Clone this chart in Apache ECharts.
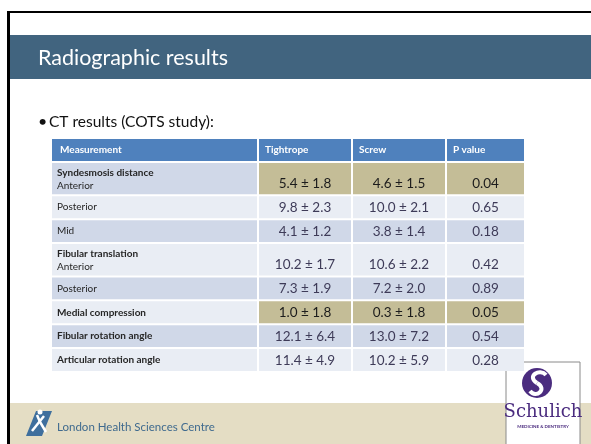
<!DOCTYPE html>
<html><head><meta charset="utf-8">
<script src="https://cdn.jsdelivr.net/npm/echarts@6/dist/echarts.min.js"></script>
<style>html,body{margin:0;padding:0;background:#fff}#c{width:591px;height:444px}</style>
</head><body><div id="c"></div>
<script>
// ---- data ----
const columnHeaders = ['Measurement', 'Tightrope', 'Screw', 'P value'];
const groupLabels = ['Syndesmosis distance', null, null, 'Fibular translation', null, 'Medial compression', 'Fibular rotation angle', 'Articular rotation angle'];
const subLabels = ['Anterior', 'Posterior', 'Mid', 'Anterior', 'Posterior', null, null, null];
const tightropeMean = [5.4, 9.8, 4.1, 10.2, 7.3, 1.0, 12.1, 11.4];
const tightropeSD = [1.8, 2.3, 1.2, 1.7, 1.9, 1.8, 6.4, 4.9];
const screwMean = [4.6, 10.0, 3.8, 10.6, 7.2, 0.3, 13.0, 10.2];
const screwSD = [1.5, 2.1, 1.4, 2.2, 2.0, 1.8, 7.2, 5.9];
const pValues = [0.04, 0.65, 0.18, 0.42, 0.89, 0.05, 0.54, 0.28];
const slideTitle = 'Radiographic results';
const bulletText = 'CT results (COTS study):';
const footerText = 'London Health Sciences Centre';

// ---- layout ----
const colWeights = [207, 94, 94, 79];
const FONT = 'Lato, "Open Sans", sans-serif';
const C = {
  header: '#4f81bd', dark: '#d0d8e8', light: '#e9edf4', hi: '#c4bd97',
  valText: '#3e3b58', hiText: '#1c1c1c', labText: '#262626'
};
const rowUnits = [1].concat(groupLabels.map((g, i) => (g && subLabels[i]) ? 1.4 : 1));
const yB = [0]; rowUnits.forEach(u => yB.push(yB[yB.length - 1] + u));
const xB = [0]; colWeights.forEach(w => xB.push(xB[xB.length - 1] + w));

const cells = [];
for (let r = 0; r < rowUnits.length; r++) {
  for (let c = 0; c < 4; c++) {
    cells.push([xB[c], xB[c + 1], yB[r], yB[r + 1], c, r]);
  }
}

function cellContent(c, r) {
  if (r === 0) return { header: columnHeaders[c] };
  const i = r - 1;
  const sig = pValues[i] <= 0.05;
  if (c === 0) return { group: groupLabels[i], sub: subLabels[i], i };
  let txt;
  if (c === 1) txt = tightropeMean[i].toFixed(1) + ' \u00b1 ' + tightropeSD[i].toFixed(1);
  else if (c === 2) txt = screwMean[i].toFixed(1) + ' \u00b1 ' + screwSD[i].toFixed(1);
  else txt = pValues[i].toFixed(2);
  return { value: txt, sig, i };
}

function renderItem(params, api) {
  const p0 = api.coord([api.value(0), api.value(2)]);
  const p1 = api.coord([api.value(1), api.value(3)]);
  const c = api.value(4), r = api.value(5);
  const x = p0[0] + 1, y = p0[1] + 1, w = p1[0] - p0[0] - 2, h = p1[1] - p0[1] - 2;
  const info = cellContent(c, r);
  let fill;
  if (r === 0) fill = C.header;
  else if (c > 0 && info.sig) fill = C.hi;
  else fill = ((r - 1) % 2 === 0) ? C.dark : C.light;
  const children = [{ type: 'rect', shape: { x, y, width: w, height: h }, style: { fill } }];
  const LF = '10px ' + FONT, LB = 'bold 10px ' + FONT;
  if (r === 0) {
    children.push({ type: 'text', style: { text: info.header, x: x + (c === 0 ? 8 : 6), y: y + h / 2, verticalAlign: 'middle', align: 'left', fill: '#fff', font: LB } });
  } else if (c === 0) {
    if (info.group && info.sub) {
      children.push({ type: 'text', style: { text: info.group, x: x + 5, y: y + 10, verticalAlign: 'middle', fill: C.labText, font: LB } });
      children.push({ type: 'text', style: { text: info.sub, x: x + 5, y: y + 23, verticalAlign: 'middle', fill: C.labText, font: LF } });
    } else if (info.group) {
      children.push({ type: 'text', style: { text: info.group, x: x + 5, y: y + h / 2, verticalAlign: 'middle', fill: C.labText, font: LB } });
    } else {
      children.push({ type: 'text', style: { text: info.sub, x: x + 5, y: y + h / 2, verticalAlign: 'middle', fill: C.labText, font: LF } });
    }
  } else {
    children.push({ type: 'text', style: { text: info.value, x: x + w / 2, y: y + h - 10.8, align: 'center', verticalAlign: 'middle', fill: info.sig ? C.hiText : C.valText, font: '13.5px ' + FONT } });
  }
  return { type: 'group', children };
}

const chart = echarts.init(document.getElementById('c'), null, { renderer: 'canvas' });
chart.setOption({
  animation: false,
  backgroundColor: '#ffffff',
  grid: { left: 51, top: 138, right: 66, bottom: 72 },
  xAxis: { type: 'value', min: 0, max: xB[xB.length - 1], show: false },
  yAxis: { type: 'value', min: 0, max: yB[yB.length - 1], inverse: true, show: false },
  series: [{ type: 'custom', renderItem, data: cells, clip: false, silent: true }],
  graphic: [
    { type: 'rect', shape: { x: 7, y: 11, width: 3, height: 440 }, style: { fill: '#000' } },
    { type: 'rect', shape: { x: 7, y: 11, width: 590, height: 2 }, style: { fill: '#000' } },
    { type: 'rect', shape: { x: 10, y: 35, width: 585, height: 44 }, style: { fill: '#41647f' } },
    { type: 'text', style: { text: slideTitle, x: 38, y: 58, verticalAlign: 'middle', fill: '#ffffff', font: '21.5px ' + FONT } },
    { type: 'text', style: { text: '\u2022', x: 38, y: 122, verticalAlign: 'middle', fill: '#111', font: '16px ' + FONT } },
    { type: 'text', style: { text: bulletText, x: 49, y: 122, verticalAlign: 'middle', fill: '#111', font: '15.5px ' + FONT } },
    { type: 'rect', shape: { x: 10, y: 403, width: 585, height: 45 }, style: { fill: '#e4ddc4' } },
    // London Health logo (approximate)
    { type: 'polygon', shape: { points: [[26, 436], [36, 411], [52, 411], [42, 436]] }, style: { fill: '#3f6f9d' } },
    { type: 'polyline', shape: { points: [[32, 431], [44, 416]] }, style: { stroke: '#ffffff', lineWidth: 2.5 } },
    { type: 'polyline', shape: { points: [[37, 415], [40, 422], [46, 432]] }, style: { stroke: '#ffffff', lineWidth: 2.5 } },
    { type: 'circle', shape: { cx: 40, cy: 412, r: 2.5 }, style: { fill: '#ffffff' } },
    { type: 'text', style: { text: footerText, x: 57, y: 427, verticalAlign: 'middle', fill: '#3f6a8e', font: '11.5px ' + FONT } },
    // Schulich logo (approximate)
    { type: 'rect', shape: { x: 506, y: 362, width: 74, height: 90 }, style: { fill: '#ffffff', stroke: '#8a8a8a', lineWidth: 1 } },
    { type: 'circle', shape: { cx: 537, cy: 383, r: 15 }, style: { fill: '#4b2c7f' } },
    { type: 'bezierCurve', shape: { x1: 546, y1: 375, cpx1: 540, cpy1: 368, cpx2: 526, cpy2: 376, x2: 537, y2: 383 }, style: { stroke: '#ffffff', lineWidth: 4, fill: null } },
    { type: 'bezierCurve', shape: { x1: 537, y1: 383, cpx1: 548, cpy1: 389, cpx2: 536, cpy2: 399, x2: 530, y2: 391 }, style: { stroke: '#ffffff', lineWidth: 4, fill: null } },
    { type: 'text', style: { text: 'Schulich', x: 543, y: 412, align: 'center', verticalAlign: 'middle', fill: '#4b2c7f', font: '18px "DejaVu Serif", "Liberation Serif", serif' } },
    { type: 'text', style: { text: 'MEDICINE & DENTISTRY', x: 543, y: 427, align: 'center', verticalAlign: 'middle', fill: '#4b2c7f', font: 'bold 4.5px ' + FONT } }
  ]
});
</script>
</body></html>
